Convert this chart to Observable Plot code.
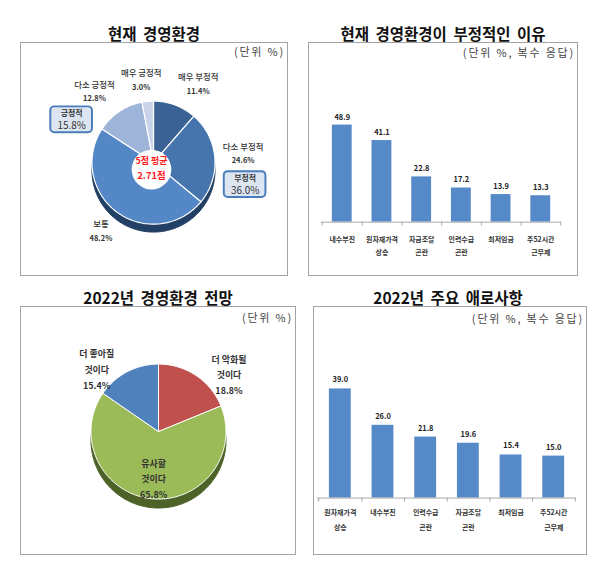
<!DOCTYPE html>
<html>
<head>
<meta charset="utf-8">
<script src="https://cdn.jsdelivr.net/npm/d3@7"></script>
<script src="https://cdn.jsdelivr.net/npm/@observablehq/plot@0.6"></script>
<style>
  body { margin: 0; background: #fff; font-family: "Noto Sans CJK KR", sans-serif; }
  #page { position: relative; width: 600px; height: 570px; overflow: hidden; }
  .title { position: absolute; width: 300px; text-align: center; font-weight: 700; font-size: 15.5px;
           line-height: 18px; color: #111; word-spacing: 3px; white-space: nowrap; }
  .box { position: absolute; border: 1px solid #a3a3a3; box-sizing: border-box; }
  .box > svg { position: absolute; left: -1px; top: -1px; }
  .unit { position: absolute; right: 2px; font-size: 11px; line-height: 14px; letter-spacing: 1.8px;
          color: #444; white-space: nowrap; z-index: 2; }
</style>
</head>
<body>
<div id="page"></div>
<script>
// ---------------- DATA ----------------
const envCategories = ["매우 부정적", "다소 부정적", "보통", "다소 긍정적", "매우 긍정적"];
const envValues = [11.4, 24.6, 48.2, 12.8, 3.0];
const envScaleMax = 5;
const envAverage = 2.71;
const envGroupNames = ["부정적", "긍정적"];
const envGroupMembers = [["매우 부정적", "다소 부정적"], ["다소 긍정적", "매우 긍정적"]];

const reasonCategories = ["내수부진", "원자재가격\n상승", "자금조달\n곤란", "인력수급\n곤란", "최저임금", "주52시간\n근무제"];
const reasonValues = [48.9, 41.1, 22.8, 17.2, 13.9, 13.3];

const outlookCategories = ["더 악화될\n것이다", "유사할\n것이다", "더 좋아질\n것이다"];
const outlookValues = [18.8, 65.8, 15.4];

const difficultyCategories = ["원자재가격\n상승", "내수부진", "인력수급\n곤란", "자금조달\n곤란", "최저임금", "주52시간\n근무제"];
const difficultyValues = [39.0, 26.0, 21.8, 19.6, 15.4, 15.0];

// ---------------- STYLE ----------------
const FONT = '"Noto Sans CJK KR", sans-serif';
const envColors = ["#3b6295", "#4674ad", "#5487c6", "#9fb4d9", "#c9d4ea"];
const envShadow = "#223f66";
const outlookColors = ["#c0504d", "#9bbb59", "#4f81bd"];
const outlookShadow = "#4d6227";
const barColor = "#5689c8";

const page = document.getElementById("page");

function panel(cfg) {
  const t = document.createElement("div");
  t.className = "title";
  t.textContent = cfg.title;
  t.style.left = (cfg.titleX - 150) + "px";
  t.style.top = (cfg.titleY - 9) + "px";
  page.appendChild(t);
  const b = document.createElement("div");
  b.className = "box";
  Object.assign(b.style, {left: cfg.left + "px", top: cfg.top + "px", width: cfg.w + "px", height: cfg.h + "px"});
  const u = document.createElement("div");
  u.className = "unit";
  u.textContent = cfg.unit;
  u.style.top = cfg.unitTop + "px";
  b.appendChild(u);
  page.appendChild(b);
  return b;
}

const canvas = document.createElement("canvas");
const ctx = canvas.getContext("2d");
function textWidth(str, size, weight) {
  ctx.font = `${weight} ${size}px ${FONT}`;
  return d3.max(str.split("\n"), s => ctx.measureText(s).width);
}

function pieGeometry(cats, vals, r) {
  const arcs = d3.pie().sort(null).value(d => d)(vals);
  const pts = [];
  arcs.forEach((a, i) => {
    const n = Math.max(2, Math.ceil((a.endAngle - a.startAngle) / (Math.PI / 120)));
    pts.push({key: cats[i], x: 0, y: 0});
    for (let k = 0; k <= n; k++) {
      const t = a.startAngle + (a.endAngle - a.startAngle) * k / n;
      pts.push({key: cats[i], x: r * Math.sin(t), y: -r * Math.cos(t)});
    }
    pts.push({key: cats[i], x: 0, y: 0});
  });
  return {arcs, pts};
}

const clamp = v => Math.max(-1, Math.min(1, v));
function outsideLabel(a, r, gap, w, h, syMode) {
  const m = (a.startAngle + a.endAngle) / 2;
  const s = Math.sin(m), c = Math.cos(m);
  const px = (r + gap) * s, py = -(r + gap) * c;
  const sx = clamp(3 * s);
  const sy = syMode === "below" ? 1 : clamp(-3 * c);
  return {x: px + sx * w / 2, y: py + sy * h / 2};
}

// ---------------- PANEL 1 : pie ----------------
{
  const box = panel({title: "현재 경영환경", titleX: 154, titleY: 33, left: 20, top: 42, w: 268, h: 234,
                     unit: "(단위 %)", unitTop: 1});
  const R = 62;
  const g = pieGeometry(envCategories, envValues, R);
  const labels = g.arcs.map((a, i) => {
    const name = envCategories[i];
    const w = Math.max(textWidth(name, 8.5, 500), textWidth(envValues[i].toFixed(1) + "%", 7.5, 700));
    const p = outsideLabel(a, R, 8, w, 26);
    return {name, value: envValues[i].toFixed(1) + "%", x: p.x, y: p.y};
  });
  const offsets = [[2, 31], [-23, 28]];
  const anchors = ["다소 부정적", "다소 긍정적"];
  const callouts = envGroupNames.map((gname, j) => {
    const sum = d3.sum(envGroupMembers[j], m => envValues[envCategories.indexOf(m)]);
    const l = labels.find(d => d.name === anchors[j]);
    return {name: gname, value: sum.toFixed(1) + "%", x: l.x + offsets[j][0], y: l.y + offsets[j][1]};
  });
  const svg = Plot.plot({
    width: 268, height: 234, margin: 0,
    style: {fontFamily: FONT, background: "transparent"},
    x: {domain: [-134, 134], axis: null},
    y: {domain: [113, -121], axis: null},
    color: {domain: envCategories, range: envColors},
    marks: [
      Plot.line(g.pts, {x: "x", y: d => d.y + 8, z: "key", fill: envShadow, stroke: envShadow, strokeWidth: 1}),
      Plot.line(g.pts, {x: "x", y: "y", z: "key", fill: "key", stroke: "white", strokeWidth: 1.2, strokeLinejoin: "round"}),
      Plot.dot([0], {x: 0, y: 0, r: 20, fill: "white", stroke: "none", dx: -2, dy: 7}),
      Plot.text([`${envScaleMax}점 평균`], {x: 0, y: 0, dx: -2, dy: -1, fill: "#ff1a1a", fontSize: 9, fontWeight: 700}),
      Plot.text([`${envAverage}점`], {x: 0, y: 0, dx: -2, dy: 13, fill: "#ff1a1a", fontSize: 9.5, fontWeight: 700}),
      Plot.text(labels, {x: "x", y: "y", text: "name", dy: -7, fontSize: 8.5, fontWeight: 500, fill: "#333"}),
      Plot.text(labels, {x: "x", y: "y", text: "value", dy: 7, fontSize: 7.5, fontWeight: 700, fill: "#333"}),
      Plot.rect(callouts, {x1: d => d.x - 21, x2: d => d.x + 21, y1: d => d.y - 13, y2: d => d.y + 13,
                           fill: "#dce5f1", stroke: "#4a7dbb", strokeWidth: 2, rx: 4}),
      Plot.text(callouts, {x: "x", y: "y", text: "name", dy: -6, fontSize: 8, fontWeight: 700, fill: "#333"}),
      Plot.text(callouts, {x: "x", y: "y", text: "value", dy: 6, fontSize: 10, fontWeight: 400, fill: "#333"})
    ]
  });
  box.appendChild(svg);
}

// ---------------- bar chart helper ----------------
function barChart(cats, vals, o) {
  const data = cats.map((c, i) => ({c, v: vals[i]}));
  const step = (o.w - o.ml - o.mr) / cats.length;
  const pxPerUnit = (o.h - o.mt - o.mb) / o.yMax;
  const tick = 4 / pxPerUnit;
  return Plot.plot({
    width: o.w, height: o.h, marginLeft: o.ml, marginRight: o.mr, marginTop: o.mt, marginBottom: o.mb,
    style: {fontFamily: FONT, background: "transparent"},
    x: {domain: cats, paddingInner: 0.5, paddingOuter: 0.25, label: null},
    y: {domain: [0, o.yMax], axis: null},
    marks: [
      Plot.barY(data, {x: "c", y: "v", fill: barColor}),
      Plot.ruleY([0], {stroke: "#a8a8a8"}),
      Plot.ruleX(cats, {x: d => d, y1: 0, y2: -tick, dx: step / 2, stroke: "#a8a8a8"}),
      Plot.ruleX([cats[0]], {x: d => d, y1: 0, y2: -tick, dx: -step / 2, stroke: "#a8a8a8"}),
      Plot.text(data, {x: "c", y: "v", text: d => d.v.toFixed(1), dy: o.valueDy, fontSize: 7.5, fontWeight: 700, fill: "#222"}),
      Plot.axisX({tickSize: 0, tickPadding: o.tickPadding, fontSize: 7, fontWeight: 700, fill: "#333",
                  lineHeight: o.lineHeight, label: null})
    ]
  });
}

// ---------------- PANEL 2 : bars ----------------
{
  const box = panel({title: "현재 경영환경이 부정적인 이유", titleX: 443, titleY: 33, left: 308, top: 42, w: 270, h: 234,
                     unit: "(단위 %, 복수 응답)", unitTop: 2});
  box.appendChild(barChart(reasonCategories, reasonValues,
    {w: 270, h: 234, ml: 13, mr: 15, mt: 61, mb: 53, yMax: 60, valueDy: -8, tickPadding: 11, lineHeight: 1.85}));
}

// ---------------- PANEL 3 : pie ----------------
{
  const box = panel({title: "2022년 경영환경 전망", titleX: 158, titleY: 297, left: 20, top: 306, w: 276, h: 249,
                     unit: "(단위 %)", unitTop: 3});
  const R = 68;
  const g = pieGeometry(outlookCategories, outlookValues, R);
  const labels = g.arcs.map((a, i) => {
    const text = outlookCategories[i] + "\n" + outlookValues[i].toFixed(1) + "%";
    const w = textWidth(outlookCategories[i], 9, 700);
    let p;
    if (outlookValues[i] > 50) {
      const m = (a.startAngle + a.endAngle) / 2;
      p = {x: 0.68 * R * Math.sin(m), y: -0.68 * R * Math.cos(m)};
    } else {
      p = outsideLabel(a, R, 28, w, 42, "below");
    }
    return {text, x: p.x, y: p.y};
  });
  const svg = Plot.plot({
    width: 276, height: 249, margin: 0,
    style: {fontFamily: FONT, background: "transparent"},
    x: {domain: [-139, 137], axis: null},
    y: {domain: [123, -126], axis: null},
    color: {domain: outlookCategories, range: outlookColors},
    marks: [
      Plot.line(g.pts, {x: "x", y: d => d.y + 9, z: "key", fill: outlookShadow, stroke: outlookShadow, strokeWidth: 1}),
      Plot.line(g.pts, {x: "x", y: "y", z: "key", fill: "key", stroke: "white", strokeWidth: 1, strokeLinejoin: "round"}),
      Plot.text(labels, {x: "x", y: "y", text: "text", fontSize: 9, fontWeight: 700, fill: "#333", lineHeight: 1.75})
    ]
  });
  box.appendChild(svg);
}

// ---------------- PANEL 4 : bars ----------------
{
  const box = panel({title: "2022년 주요 애로사항", titleX: 448, titleY: 297, left: 313, top: 306, w: 274, h: 249,
                     unit: "(단위 %, 복수 응답)", unitTop: 4});
  box.appendChild(barChart(difficultyCategories, difficultyValues,
    {w: 274, h: 249, ml: 4, mr: 9, mt: 52, mb: 56, yMax: 50, valueDy: -9, tickPadding: 6, lineHeight: 2.2}));
}
</script>
</body>
</html>
